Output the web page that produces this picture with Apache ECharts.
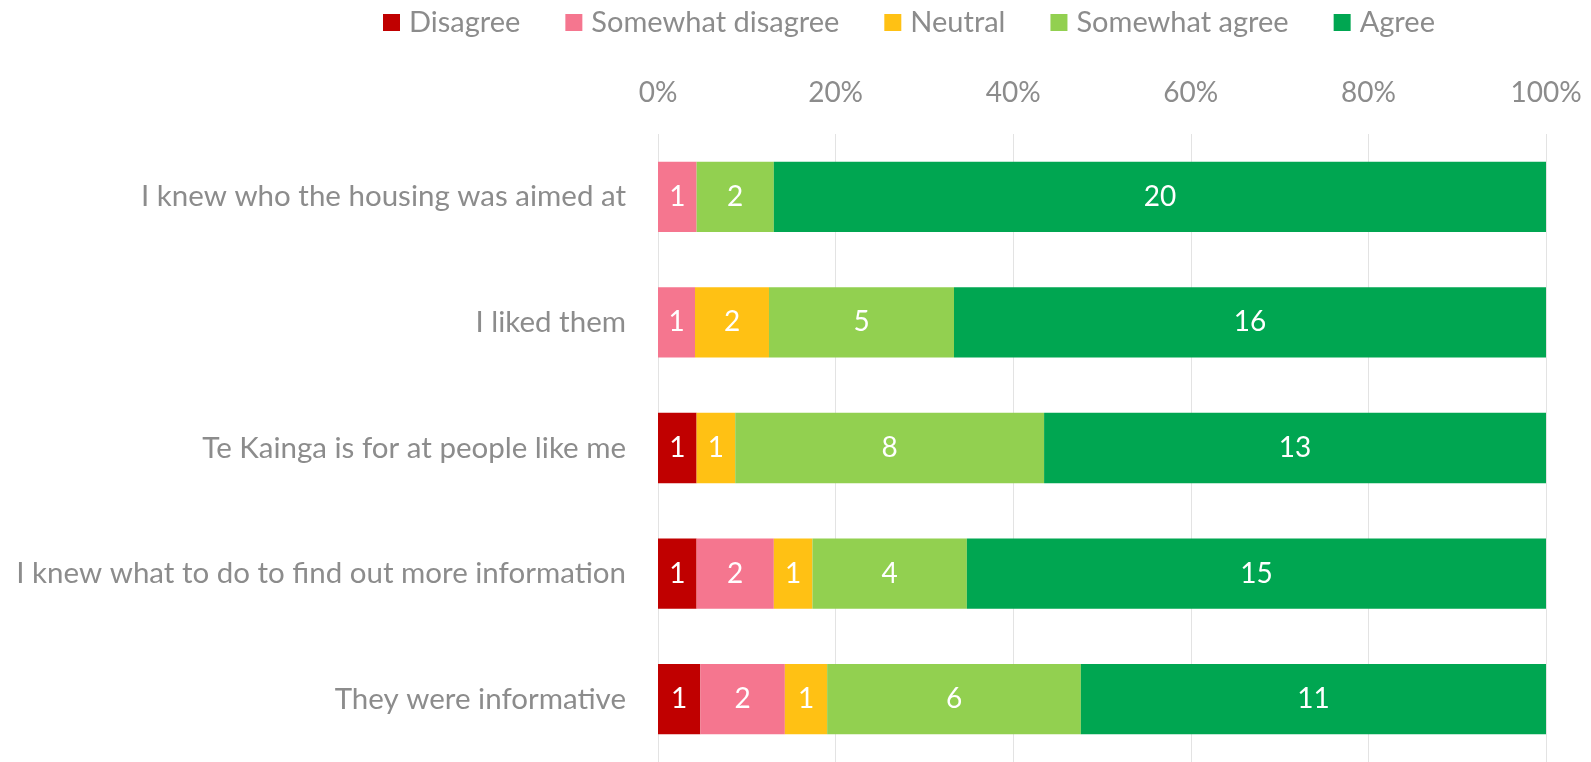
<!DOCTYPE html>
<html>
<head>
<meta charset="utf-8">
<script src="https://cdn.jsdelivr.net/npm/echarts@6/dist/echarts.min.js"></script>
<style>
  html, body { margin: 0; padding: 0; background: #fff; }
  #chart { width: 1591px; height: 762px; }
</style>
</head>
<body>
<div id="chart"></div>
<script>
// Survey statements (top to bottom)
const categories = [
  'I knew who the housing was aimed at',
  'I liked them',
  'Te Kainga is for at people like me',
  'I knew what to do to find out more information',
  'They were informative'
];

// Response counts per statement
const disagree         = [0, 0, 1, 1, 1];
const somewhatDisagree = [1, 1, 0, 2, 2];
const neutral          = [0, 2, 1, 1, 1];
const somewhatAgree    = [2, 5, 8, 4, 6];
const agree            = [20, 16, 13, 15, 11];

const xTicks = [0, 20, 40, 60, 80, 100];

const seriesDefs = [
  { name: 'Disagree',          counts: disagree,         color: '#C00000' },
  { name: 'Somewhat disagree', counts: somewhatDisagree, color: '#F5768F' },
  { name: 'Neutral',           counts: neutral,          color: '#FFC114' },
  { name: 'Somewhat agree',    counts: somewhatAgree,    color: '#92D050' },
  { name: 'Agree',             counts: agree,            color: '#00A651' }
];

// Row totals, used to turn counts into shares of 100%
const totals = categories.map((_, i) =>
  seriesDefs.reduce((s, d) => s + d.counts[i], 0));

const FONT = 'Lato, "Open Sans", sans-serif';
const GREY = '#8C8C8C';

const chart = echarts.init(document.getElementById('chart'));
chart.setOption({
  animation: false,
  textStyle: { fontFamily: FONT },
  legend: {
    top: 3,
    left: 378,
    itemWidth: 17,
    itemHeight: 17,
    itemGap: 45,
    icon: 'rect',
    textStyle: { fontSize: 29, color: GREY, fontFamily: FONT, padding: [0, 0, 0, 4] },
    data: seriesDefs.map(d => d.name)
  },
  grid: { left: 658, right: 45, top: 134, bottom: -2, containLabel: false },
  xAxis: {
    type: 'value',
    position: 'top',
    min: xTicks[0],
    max: xTicks[xTicks.length - 1],
    interval: 20,
    axisLine: { show: false },
    axisTick: { show: false },
    axisLabel: {
      formatter: '{value}%',
      fontSize: 28,
      color: GREY,
      margin: 27,
      fontFamily: FONT
    },
    splitLine: { show: true, lineStyle: { color: '#E3E3E3', width: 1 } }
  },
  yAxis: {
    type: 'category',
    inverse: true,
    data: categories,
    axisLine: { show: false },
    axisTick: { show: false },
    axisLabel: { fontSize: 29.5, color: GREY, margin: 32, fontFamily: FONT }
  },
  series: seriesDefs.map(d => ({
    name: d.name,
    type: 'bar',
    stack: 'total',
    barWidth: '56%',
    itemStyle: { color: d.color },
    label: {
      show: true,
      position: 'inside',
      color: '#fff',
      fontSize: 28,
      fontFamily: FONT,
      formatter: p => d.counts[p.dataIndex] ? String(d.counts[p.dataIndex]) : ''
    },
    data: d.counts.map((c, i) => c / totals[i] * 100)
  }))
});
</script>
</body>
</html>
